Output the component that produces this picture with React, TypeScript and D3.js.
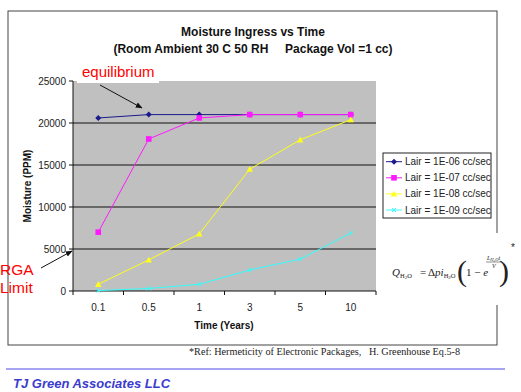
import React from 'react';
import * as d3 from 'd3';

const categories = ['0.1', '0.5', '1', '3', '5', '10'];
const seriesNames = ['Lair = 1E-06 cc/sec', 'Lair = 1E-07 cc/sec', 'Lair = 1E-08 cc/sec', 'Lair = 1E-09 cc/sec'];
const lair1e6 = [20600, 21000, 21000, 21000, 21000, 21000];
const lair1e7 = [7000, 18100, 20600, 21000, 21000, 21000];
const lair1e8 = [800, 3700, 6800, 14500, 18000, 20400];
const lair1e9 = [50, 300, 800, 2500, 3800, 6900];
const yTicks = [0, 5000, 10000, 15000, 20000, 25000];

const colors = ['#1a1a8c', '#ff1aff', '#ffff1a', '#33ffff'];
const markers = ['diamond', 'square', 'triangle', 'cross'];

const W = 521;
const H = 392;
const plot = { left: 73, top: 81, right: 376, bottom: 291 };
const font = 'Liberation Sans, Arial, sans-serif';

const Marker: React.FC<{ kind: string; x: number; y: number; color: string }> = ({ kind, x, y, color }) => {
  if (kind === 'diamond') {
    return <path d={`M${x},${y - 3}L${x + 3},${y}L${x},${y + 3}L${x - 3},${y}Z`} fill={color} />;
  }
  if (kind === 'square') {
    return <rect x={x - 2.8} y={y - 2.8} width={5.6} height={5.6} fill={color} />;
  }
  if (kind === 'triangle') {
    return <path d={`M${x},${y - 3.2}L${x + 3.2},${y + 2.6}L${x - 3.2},${y + 2.6}Z`} fill={color} />;
  }
  return <path d={`M${x - 2},${y - 2}L${x + 2},${y + 2}M${x - 2},${y + 2}L${x + 2},${y - 2}`} stroke={color} strokeWidth={1} />;
};

export default function App() {
  const x = d3.scaleBand<string>().domain(categories).range([plot.left, plot.right]);
  const y = d3.scaleLinear().domain([0, 25000]).range([plot.bottom, plot.top]);
  const cx = (c: string) => (x(c) ?? 0) + x.bandwidth() / 2;
  const line = d3.line<number>().x((_, i) => cx(categories[i])).y(d => y(d));
  const series = [lair1e6, lair1e7, lair1e8, lair1e9];
  const boundaries = d3.range(categories.length + 1).map(i => plot.left + i * x.step());

  return (
    <svg width={W} height={H} style={{ position: 'absolute', left: 0, top: 0, background: '#fff' }} fontFamily={font}>
      <defs>
        <marker id="arr" viewBox="0 0 10 10" refX="9" refY="5" markerWidth="7" markerHeight="7" orient="auto">
          <path d="M0,1L10,5L0,9Z" fill="#111" />
        </marker>
      </defs>
      <rect x={0} y={0} width={W} height={H} fill="#fff" />
      {/* outer frame */}
      <rect x={8} y={11} width={489} height={334} fill="none" stroke="#444" strokeWidth={1} />

      <text x={253} y={36} textAnchor="middle" fontSize={12} fontWeight="bold" fill="#111">Moisture Ingress vs Time</text>
      <text x={253} y={53} textAnchor="middle" fontSize={12} fontWeight="bold" fill="#111" style={{ whiteSpace: 'pre' }}>
        (Room Ambient 30 C 50 RH     Package Vol =1 cc)
      </text>

      {/* plot area */}
      <rect x={plot.left} y={plot.top} width={plot.right - plot.left} height={plot.bottom - plot.top} fill="#c0c0c0" />
      {yTicks.filter(t => t > 0 && t < 25000).map(t => (
        <line key={t} x1={plot.left} x2={plot.right} y1={y(t)} y2={y(t)} stroke="#111" strokeWidth={1} />
      ))}
      <line x1={plot.left} x2={plot.left} y1={plot.top} y2={plot.bottom} stroke="#111" />
      <line x1={plot.left} x2={plot.right} y1={plot.bottom} y2={plot.bottom} stroke="#111" />
      {yTicks.map(t => (
        <g key={t}>
          <line x1={plot.left - 4} x2={plot.left} y1={y(t)} y2={y(t)} stroke="#111" />
          <text x={plot.left - 7} y={y(t)} dy="0.35em" textAnchor="end" fontSize={10} fill="#222">{t}</text>
        </g>
      ))}
      {boundaries.map((b, i) => (
        <line key={i} x1={b} x2={b} y1={plot.bottom} y2={plot.bottom + 4} stroke="#111" />
      ))}
      {categories.map(c => (
        <text key={c} x={cx(c)} y={311} textAnchor="middle" fontSize={10} fill="#222">{c}</text>
      ))}
      <text x={224} y={329} textAnchor="middle" fontSize={10} fontWeight="bold" fill="#111">Time (Years)</text>
      <text transform={`translate(31,${(plot.top + plot.bottom) / 2}) rotate(-90)`} textAnchor="middle" fontSize={10} fontWeight="bold" fill="#111">Moisture (PPM)</text>

      {/* series */}
      {series.map((s, si) => (
        <g key={si}>
          <path d={line(s) ?? ''} fill="none" stroke={colors[si]} strokeWidth={1} />
          {s.map((v, i) => (
            <Marker key={i} kind={markers[si]} x={cx(categories[i])} y={y(v)} color={colors[si]} />
          ))}
        </g>
      ))}

      {/* equilibrium annotation */}
      <rect x={77} y={62} width={82} height={21} fill="#fff" />
      <text x={82} y={77} fontSize={15} fill="#ff0000">equilibrium</text>
      <line x1={100} y1={85} x2={142} y2={108} stroke="#111" strokeWidth={1} markerEnd="url(#arr)" />

      {/* RGA limit annotation */}
      <text x={0} y={275} fontSize={15.5} fill="#ff0000">RGA</text>
      <text x={0} y={293} fontSize={15.5} fill="#ff0000">Limit</text>
      <line x1={41} y1={268} x2={72} y2={251} stroke="#111" strokeWidth={1} markerEnd="url(#arr)" />

      {/* legend */}
      <rect x={383} y={153} width={108} height={65} fill="#fff" stroke="#222" strokeWidth={1} />
      {seriesNames.map((n, i) => {
        const ly = 161.7 + i * 16.1;
        return (
          <g key={n}>
            <line x1={386} x2={402} y1={ly} y2={ly} stroke={colors[i]} strokeWidth={1} />
            <Marker kind={markers[i]} x={394} y={ly} color={colors[i]} />
            <text x={405} y={ly} dy="0.35em" fontSize={10} fill="#222">{n}</text>
          </g>
        );
      })}

      {/* formula */}
      <rect x={385} y={233} width={118} height={72} fill="#fff" />
      <g fontFamily="Liberation Serif, Times New Roman, serif" fill="#222">
        <text x={392} y={276} fontSize={11} fontStyle="italic">Q<tspan fontSize={6.5} dy={2} fontStyle="normal">H</tspan><tspan fontSize={5} dy={1}>2</tspan><tspan fontSize={6.5} dy={-1} fontStyle="normal">O</tspan></text>
        <text x={420} y={276} fontSize={11}>=</text>
        <text x={428} y={276} fontSize={11}>Δ<tspan fontStyle="italic">pi</tspan><tspan fontSize={6.5} dy={2}>H</tspan><tspan fontSize={5} dy={1}>2</tspan><tspan fontSize={6.5} dy={-1}>O</tspan></text>
        <text x={457} y={281} fontSize={30} fontWeight="100">(</text>
        <text x={466} y={276} fontSize={11}>1 − <tspan fontStyle="italic">e</tspan></text>
        <text x={487} y={260} fontSize={6} fontStyle="italic">L<tspan fontSize={4.5} dy={1}>H₂O</tspan><tspan dy={-1}>t</tspan></text>
        <line x1={486} x2={502} y1={262} y2={262} stroke="#222" strokeWidth={0.5} />
        <text x={492} y={268} fontSize={6} fontStyle="italic">V</text>
        <text x={499} y={281} fontSize={30} fontWeight="100">)</text>
      </g>
      <text x={511} y={251} fontSize={10} fill="#222">*</text>

      {/* footer */}
      <text x={189} y={355} fontSize={10.2} fontFamily="Liberation Serif, Times New Roman, serif" fill="#222" style={{ whiteSpace: 'pre' }}>
        *Ref: Hermeticity of Electronic Packages,   H. Greenhouse Eq.5-8
      </text>
      <line x1={6} x2={505} y1={369} y2={369} stroke="#a8a4f4" strokeWidth={2} />
      <text x={13} y={388} fontSize={13} fontWeight="bold" fontStyle="italic" fill="#3b3bd0">TJ Green Associates LLC</text>
    </svg>
  );
}
